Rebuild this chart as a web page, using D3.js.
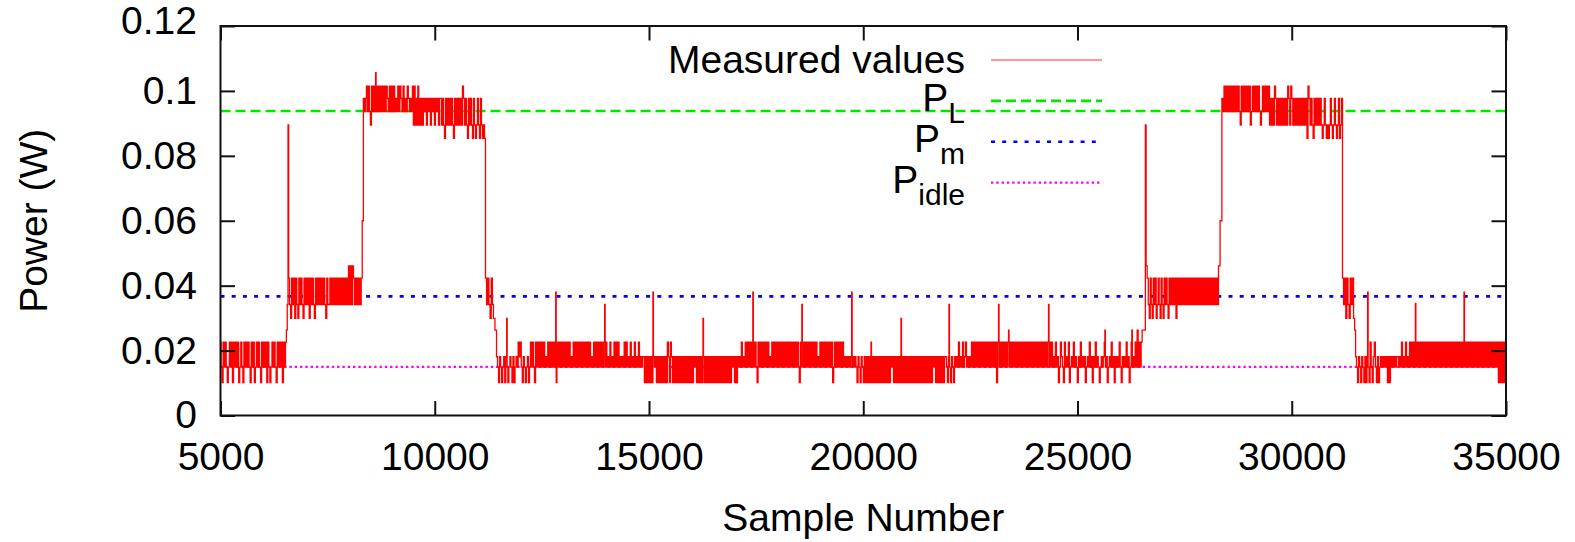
<!DOCTYPE html>
<html>
<head>
<meta charset="utf-8">
<script src="https://cdn.jsdelivr.net/npm/d3@7"></script>
<style>
  body { margin: 0; background: #fff; }
  svg text { font-family: "Liberation Sans", Arial, Helvetica, sans-serif; fill: #000; }
</style>
</head>
<body>
<svg id="chart" width="1575" height="542"></svg>
<script>
// axis ticks
const xTicks = [5000, 10000, 15000, 20000, 25000, 30000, 35000];
const yTicks = [0, 0.02, 0.04, 0.06, 0.08, 0.1, 0.12];
const yTickLabels = ["0", "0.02", "0.04", "0.06", "0.08", "0.1", "0.12"];

// quantized power levels seen in the trace (W)
const levels = {
    a: 0.0101, b: 0.0149, c: 0.0181, d: 0.0226, e: 0.0263,
    f: 0.0299, g: 0.0342, i: 0.0423, j: 0.0461, q: 0.0600,
    k: 0.0854, l: 0.0895, m: 0.0936, n: 0.0977, o: 0.1015
};

// measured trace: [first sample, last sample, level codes]
const runs = [
    [5000, 6529, "dbadbdbabdbdadbdbdabdbadbdbdbadbdabdbdbadbdbdadbabdbdbadbdbdadbd"],
    [6545, 6570, "eg"],
    [6600, 7975, "igfigifigfigigfigigifigigfigigigigigfiggigigigigigigigigig"],
    [8000, 8092, "jgjgj"],
    [8115, 8295, "igigigigi"],
    [8320, 8320, "q"],
    [8349, 8400, "nmn"],
    [8412, 9469, "omomlomomomomomomomonmomomomnmomonmomnmonmnm"],
    [9490, 9679, "ololnlolnl"],
    [9700, 10122, "nlnmnlnmnlnmnlnmnln"],
    [10145, 11172, "nlnlknlnlnlnlknlnlnlnlonlnlknlnlknlklnlknlklk"],
    [11196, 11359, "igigfig"],
    [11380, 11430, "fe"],
    [11453, 12223, "cbacbabcacbabcbacabcbdcdbacbabcab"],
    [12245, 14860, "dbdbadbdbdbdbdbcbdbdbdbdbadbdbdbdbdbdbdbcbdbdbdbdbdbdbdbdbdbcbdbdbdbdbdbdbdbcbdbcbdbdbdbcbcbdbdbcbdbcbdbcbdbcbc"],
    [14880, 17054, "cacacacacacbcacacacacacadcadcacacacacacacacacacacacbcacacacacacacacacacacacacacacacacacacbcaca"],
    [17075, 19550, "cbcbdbcbdbdbdbdbdbdbadbdbdbdbdbdbcbdbdbdbdbdbdbdbdbdbdbdbdbdbdbadbdbdbdbdbdbdbdbdbcbdbdbdbdbdbdbdabdbdbdbdbdb"],
    [19575, 20158, "cbcbcbcbcbcbacbacbacacaca"],
    [20180, 21908, "cacacacacacacacacacacbcacacacacacacacacacacacacacacacacacacacacbcacacacacac"],
    [21930, 22655, "cbacbacbacbcbdbcbdbcdbcbcbdbdbdb"],
    [22680, 24429, "dbdbdbdbdbdbdbdbdbdadbdbdbdbdbdbdbdbdbdbdbdbdbdbdbdbdbdbdbdbdbdbdbdbdbdbdbdb"],
    [24450, 26520, "cbdbcabdcbadbcbdabcbdbcbacbdbcbcabcbdbcacbdbcbabcbcdbcabcbdbcacbcbdbacbcbdbcabdbcbdbebdbde"],
    [26575, 26575, "e"],
    [26610, 26610, "j"],
    [26640, 28280, "igfigfigifgigfigfigigfigigigifigigigigigigigigigigigigigigigigigigigigig"],
    [28300, 28300, "j"],
    [28355, 28355, "q"],
    [28384, 29493, "nmomomomomomomomomlomomomomolmomomomomlmomomomol"],
    [29515, 31173, "nlnlonlnlnlnlnlnlonlonlnlnlnlnlnlnlnkonlnlknlnlnlnlklnlklklnlklnlklnkln"],
    [31196, 31430, "igifigfigi"],
    [31455, 31480, "fe"],
    [31500, 32060, "cbacbacbacacbadbacdbacab"],
    [32080, 32457, "cbcbcbcacacbcbcbc"],
    [32480, 34790, "cbcbdbcbdbcbdbdbdbdbdbdbdbdbdbdbdbdbdbdbdbdbdbdbdbdbdbdbdbdbdbdbdbdbdbdbdbdbdbdbdbdbdbdbdbdbdbdbdbdb"],
    [34810, 35000, "dadadadad"]
];

// isolated single-sample spikes: [sample, power]
const spikes = [
    [6582, 0.0895], [8629, 0.1056], [11686, 0.0299], [12830, 0.0380],
    [13973, 0.0342], [15093, 0.0380], [16260, 0.0299], [17427, 0.0380],
    [18571, 0.0342], [19738, 0.0380], [20181, 0.0226], [20881, 0.0299],
    [22001, 0.0342], [23168, 0.0342], [23402, 0.0263], [24335, 0.0342],
    [25642, 0.0263], [26272, 0.0263], [26592, 0.0895], [31773, 0.0380],
    [32893, 0.0345], [34020, 0.0380]
];

// reference power levels
const refSubs = ["L", "m", "idle"];
const refValues = [0.0938, 0.0367, 0.0150];

class lineplot {
    constructor(config) {
        this.rootId = config.rootId;
        this.dimension = config.dimension;
        this.padding = config.padding;
        this.data = config.data;
        this.refs = config.refs;
        this.updateDimensions();
        this.createScale();
        this.render();
    }
    updateDimensions() {
        this.dimension.innerWidth = this.dimension.width - this.padding.left - this.padding.right;
        this.dimension.innerHeight = this.dimension.height - this.padding.top - this.padding.bottom;
    }
    createScale() {
        this.scale = {
            x: d3.scaleLinear().domain([5000, 35000]).range([0, this.dimension.innerWidth]),
            y: d3.scaleLinear().domain([0, 0.12]).range([this.dimension.innerHeight, 0])
        };
    }
    render() {
        const self = this;
        const svg = d3.select(`#${self.rootId}`)
            .append("g")
            .attr("id", `${self.rootId}-g`)
            .attr("transform", `translate(${self.padding.left}, ${self.padding.top})`);

        svg.append("clipPath").attr("id", "plot-clip")
            .append("rect")
            .attr("width", self.dimension.innerWidth)
            .attr("height", self.dimension.innerHeight);

        const plot = svg.append("g").attr("clip-path", "url(#plot-clip)");

        // reference lines
        plot.selectAll(".ref")
            .data(self.refs)
            .enter()
            .append("line")
            .attr("class", "ref")
            .attr("x1", 0)
            .attr("x2", self.dimension.innerWidth)
            .attr("y1", d => self.scale.y(d.value))
            .attr("y2", d => self.scale.y(d.value))
            .attr("stroke", d => d.style.color)
            .attr("stroke-width", d => d.style.width)
            .attr("stroke-dasharray", d => d.style.dash);

        // measured trace, drawn as a step so the samples read as vertical strokes
        plot.append("path")
            .datum(self.data)
            .attr("fill", "none")
            .attr("stroke", "#ff0000")
            .attr("stroke-width", 1.3)
            .attr("d", d3.line()
                .x(e => self.scale.x(e.x))
                .y(e => self.scale.y(e.y))
                .curve(d3.curveStep));

        self._axis(svg);
        self._legend(svg);
    }
    _axis(svg) {
        const self = this;
        const tick = 14.5;
        const w = self.dimension.innerWidth, h = self.dimension.innerHeight;

        const bottom = svg.append("g").attr("class", "axis")
            .attr("transform", `translate(0,${h})`)
            .call(d3.axisBottom(self.scale.x).tickValues(xTicks)
                .tickSizeInner(-tick).tickSizeOuter(0).tickPadding(26.5)
                .tickFormat(d3.format("d")));
        const top = svg.append("g").attr("class", "axis")
            .call(d3.axisTop(self.scale.x).tickValues(xTicks)
                .tickSizeInner(-tick).tickSizeOuter(0).tickFormat(""));
        const left = svg.append("g").attr("class", "axis")
            .call(d3.axisLeft(self.scale.y).tickValues(yTicks)
                .tickSizeInner(-tick).tickSizeOuter(0).tickPadding(23.5)
                .tickFormat((d, i) => yTickLabels[i]));
        const right = svg.append("g").attr("class", "axis")
            .attr("transform", `translate(${w},0)`)
            .call(d3.axisRight(self.scale.y).tickValues(yTicks)
                .tickSizeInner(-tick).tickSizeOuter(0).tickFormat(""));

        [bottom, top, left, right].forEach(g => {
            g.select(".domain").remove();
            g.selectAll("line").attr("stroke", "#111").attr("stroke-width", 2);
            g.selectAll("text").attr("font-size", 39).attr("fill", "#000")
                .style("font-family", "\"Liberation Sans\", Arial, sans-serif");
        });
        left.selectAll("text").filter(d => d === 0.12).attr("dy", "0.2em");

        // frame
        svg.append("rect")
            .attr("width", w).attr("height", h)
            .attr("fill", "none")
            .attr("stroke", "#111")
            .attr("stroke-width", 2);

        svg.append("text")
            .attr("x", w / 2)
            .attr("y", h + 115.5)
            .attr("text-anchor", "middle")
            .attr("font-size", 39)
            .text("Sample Number");

        svg.append("text")
            .attr("transform", `translate(${33 - self.padding.left},${h / 2})rotate(-90)`)
            .attr("dy", "0.35em")
            .attr("text-anchor", "middle")
            .attr("font-size", 39)
            .text("Power (W)");
    }
    _legend(svg) {
        const self = this;
        const textX = 965 - self.padding.left;
        const lineX1 = 991 - self.padding.left, lineX2 = 1102 - self.padding.left;
        const rowY = i => 60 + i * 40.9 - self.padding.top;

        const legend = svg.append("g").attr("class", "legend");

        legend.append("text")
            .attr("x", textX).attr("y", rowY(0) + 13.3)
            .attr("text-anchor", "end").attr("font-size", 39)
            .text("Measured values");
        legend.append("line")
            .attr("x1", lineX1).attr("x2", lineX2)
            .attr("y1", rowY(0)).attr("y2", rowY(0))
            .attr("stroke", "#ff3030").attr("stroke-width", 1.1);

        self.refs.forEach((r, i) => {
            const y = rowY(i + 1);
            const t = legend.append("text")
                .attr("x", textX).attr("y", y + 10.3)
                .attr("text-anchor", "end").attr("font-size", 39)
                .text("P");
            t.append("tspan")
                .attr("dy", 11.6)
                .attr("font-size", 30)
                .text(r.sub);
            legend.append("line")
                .attr("x1", lineX1).attr("x2", lineX2)
                .attr("y1", y).attr("y2", y)
                .attr("stroke", r.style.color)
                .attr("stroke-width", r.style.width)
                .attr("stroke-dasharray", r.style.dash);
        });
    }
}

// build the trace points from the runs and spikes
const trace = [];
runs.forEach(([s0, s1, codes]) => {
    const n = codes.length;
    for (let i = 0; i < n; i++) {
        trace.push({ x: n === 1 ? s0 : s0 + (s1 - s0) * i / (n - 1), y: levels[codes[i]] });
    }
});
spikes.forEach(([x, y]) => trace.push({ x, y }));
trace.sort((p, q) => p.x - q.x);

const refStyles = [
    { color: "#00e800", width: 2.6, dash: "10,5" },
    { color: "#0000ff", width: 2.6, dash: "4,7.2" },
    { color: "#ff00ff", width: 2.2, dash: "2.4,2.9" }
];

new lineplot({
    rootId: "chart",
    dimension: { width: 1575, height: 542 },
    padding: { top: 26, right: 69, bottom: 126.5, left: 220.5 },
    data: trace,
    refs: refValues.map((v, i) => ({ value: v, sub: refSubs[i], style: refStyles[i] }))
});
</script>
</body>
</html>
